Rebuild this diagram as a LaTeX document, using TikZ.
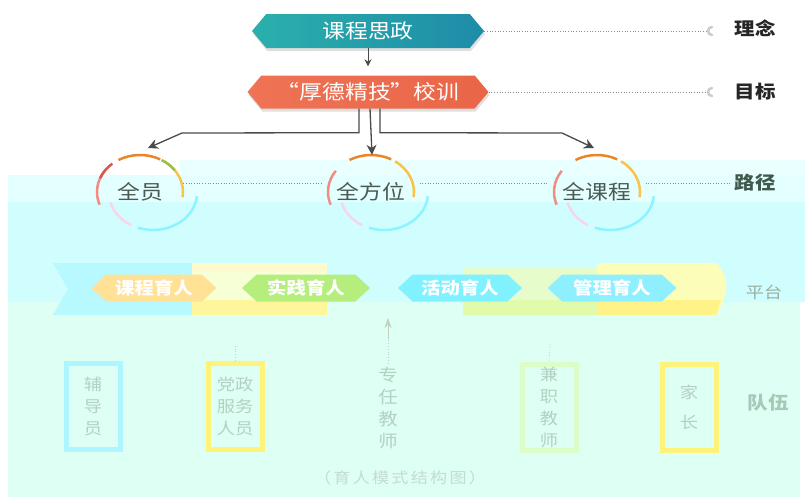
\documentclass[tikz,border=0pt]{standalone}
\usepackage{fontspec}
\setmainfont{Noto Sans CJK SC}[FakeStretch=1.14]
\usetikzlibrary{shapes.symbols,shapes.geometric,shadows,arrows.meta,calc}
\definecolor{tealA}{HTML}{2BB0AC}
\definecolor{tealB}{HTML}{1E8CA8}
\definecolor{orngA}{HTML}{EF7355}
\definecolor{orngB}{HTML}{EA6548}
\definecolor{conncol}{HTML}{4A4A4A}
\definecolor{bgA}{HTML}{EAFFFF}
\definecolor{bgB}{HTML}{E4FFFF}
\definecolor{bgC}{HTML}{D0FEFF}
\definecolor{bgD}{HTML}{DEFFF4}
\definecolor{fadetxt}{HTML}{B4D0C2}
\definecolor{ringtxt}{HTML}{4A5A52}
\definecolor{arcRed}{HTML}{D9574F}
\definecolor{arcSalmon}{HTML}{F08C80}
\definecolor{arcOrange}{HTML}{E8862A}
\definecolor{arcGreen}{HTML}{9DBF4C}
\definecolor{arcYellow}{HTML}{F7C34A}
\definecolor{arcPink}{HTML}{F9D4EA}
\definecolor{arcCyan}{HTML}{8CF4FF}
\definecolor{ribCyan}{HTML}{B8F8FF}
\definecolor{ribYelA}{HTML}{F6FFD6}
\definecolor{ribYelB}{HTML}{FFF59A}
\definecolor{ribGrnA}{HTML}{E6FCCB}
\definecolor{ribGrnB}{HTML}{E2FBAA}
\definecolor{ribYelC}{HTML}{FCFDB8}
\definecolor{ribYelD}{HTML}{FFF388}
\definecolor{tagOr}{HTML}{FFE296}
\definecolor{tagGr}{HTML}{B6EE7E}
\definecolor{tagCy}{HTML}{80F2FF}
\definecolor{tagCy2}{HTML}{8EF0FF}
\definecolor{boxCy}{HTML}{ADF5FF}
\definecolor{boxYe}{HTML}{FFF27A}
\definecolor{boxGr}{HTML}{DCFCC8}
\definecolor{pathtxt}{HTML}{3F5A4C}
\definecolor{plattxt}{HTML}{9AB0A2}
\definecolor{teamtxt}{HTML}{A8C8B8}
\definecolor{captxt}{HTML}{C4DCD2}
\begin{document}
\begin{tikzpicture}[x=1pt,y=-1pt,
  hexa/.style={shape=signal, signal to=west and east, signal pointer angle=100,
    inner sep=0pt, text=white, font=\fontsize{20}{20}\selectfont,
    drop shadow={opacity=0.25, shadow xshift=1pt, shadow yshift=-3pt}},
  tag/.style={shape=signal, signal to=west and east, signal pointer angle=85,
    inner sep=0pt, minimum height=27pt, text=white, font=\bfseries\fontsize{17}{17}\selectfont},
  side/.style={font=\bfseries\fontsize{18}{18}\selectfont, text=black!85},
  conn/.style={draw=conncol, line width=1.3pt, -{Stealth[length=10pt,width=10pt]}},
  dots/.style={draw=black!45, dotted, line width=0.7pt},
  ring/.style={ellipse, minimum width=86pt, minimum height=74pt, inner sep=0pt, text=ringtxt, font=\fontsize{20}{20}\selectfont},
  arcline/.style={line width=2.5pt},
  team/.style={draw, line width=5pt, minimum width=54pt, minimum height=86pt, inner sep=0pt,
    text=fadetxt, align=center, font=\fontsize{16}{22}\selectfont},
]
\useasboundingbox (0,0) rectangle (805,499);
% background panels
\fill[white] (0,0) rectangle (805,499);
\fill[bgA] (180,160) rectangle (805,175);
\fill[bgB] (8,175) rectangle (805,202);
\fill[bgC] (8,202) rectangle (805,302);
\fill[bgD] (8,302) rectangle (800,497);

% top nodes
\node[hexa, minimum width=232pt, minimum height=34pt, left color=tealA, right color=tealB] (n1) at (368,31) {课程思政};
\node[hexa, minimum width=241pt, minimum height=33pt, left color=orngA, right color=orngB] (n2) at (368,92) {“厚德精技”校训};

\draw[conn, -{Stealth[length=7pt,width=7pt]}, line width=1pt, shorten >=9pt] (n1.south) -- (n2.north);

% right side labels
\node[side] (l1) at (755,28) {理念};
\node[side] (l2) at (755,92) {目标};
\node[side, text=pathtxt] (l3) at (755,183) {路径};
\node[font=\fontsize{16}{16}\selectfont, text=plattxt] (l4) at (764,292) {平台};
\node[side, text=teamtxt] (l5) at (768,403) {队伍};

\coordinate (d1) at (706,31);
\coordinate (d2) at (706,92);
\draw[dots] (n1.east) -- (d1);
\draw[dots] (n2.east) -- (d2);
\foreach \c in {d1,d2}{
  \draw[black!20, line width=2.5pt, line cap=round] ([xshift=6pt,yshift=4pt]\c) arc[start angle=90, end angle=270, radius=4pt];
}

% circles
\node[ring] (c1) at (140,192) {全员};
\node[ring] (c2) at (371,192) {全方位};
\node[ring] (c3) at (597,192) {全课程};

\foreach \c in {c1,c2,c3}{
  \draw[arcSalmon, arcline] ([shift={(200:43pt and 37pt)}]\c.center) arc[start angle=200, end angle=145, x radius=43pt, y radius=37pt];
  \draw[arcOrange, arcline] ([shift={(120:43pt and 37pt)}]\c.center) arc[start angle=120, end angle=62, x radius=43pt, y radius=37pt];
  \draw[arcYellow, arcline] ([shift={(56:43pt and 37pt)}]\c.center) arc[start angle=56, end angle=-8, x radius=43pt, y radius=37pt];
  \draw[arcPink, arcline] ([shift={(195:44pt and 37pt)},shift={(13pt,-1pt)}]\c.center) arc[start angle=195, end angle=240, x radius=44pt, y radius=37pt];
  \draw[arcCyan, arcline] ([shift={(250:44pt and 37pt)},shift={(13pt,-1pt)}]\c.center) arc[start angle=250, end angle=355, x radius=44pt, y radius=37pt];
}
\draw[arcRed, arcline] ([shift={(158:43pt and 37pt)}]c1.center) arc[start angle=158, end angle=130, x radius=43pt, y radius=37pt];
\draw[arcGreen, arcline] ([shift={(60:43pt and 37pt)}]c1.center) arc[start angle=60, end angle=36, x radius=43pt, y radius=37pt];

\draw[dots] ([yshift=9pt]c1.east) -- ([yshift=9pt]c2.west);
\draw[dots] ([yshift=9pt]c2.east) -- ([yshift=9pt]c3.west);
\draw[dots] ([yshift=9pt]c3.east) -- (l3.west);

% connectors from the motto to the three paths
\coordinate (a1) at (148,148);
\coordinate (a3) at (594,148);
\draw[conn] ([xshift=-9pt]n2.south) -- ++(0,24) -- (182,133) -- (a1);
\draw[conn] ([xshift=2pt]n2.south) -- ([xshift=1pt]c2.north);
\draw[conn] ([xshift=12pt]n2.south) -- ++(0,24) -- (562,133) -- (a3);

% platform ribbon
\fill[ribCyan] (53,263) -- (192,263) -- (192,315) -- (53,315) -- (68,289) -- cycle;
\fill[ribYelA] (192,263) rectangle (327,315);
\fill[ribYelB] (192,300) rectangle (327,315);
\fill[ribYelB!50!white] (192,263) rectangle (327,271);
\fill[ribGrnA] (463,267) rectangle (597,315);
\fill[ribGrnB] (463,300) rectangle (597,315);
\fill[ribYelC] (597,263) -- (716,263) .. controls (724,270) and (727,282) .. (726,289) .. controls (725,298) and (721,308) .. (716,315) -- (597,315) -- cycle;
\fill[ribYelD] (597,300) -- (721,300) -- (716,315) -- (597,315) -- cycle;
\coordinate (rb) at (388,318);

\node[tag, minimum width=125pt, fill=tagOr] (t1) at (154,288) {课程育人};
\node[tag, minimum width=128pt, fill=tagGr] (t2) at (306,288) {实践育人};
\node[tag, minimum width=124pt, fill=tagCy] (t3) at (460,288) {活动育人};
\node[tag, minimum width=129pt, fill=tagCy2] (t4) at (612,288) {管理育人};

% team
\node[team, draw=boxCy] (b1) at (93,406) {辅\\导\\员};
\node[team, draw=boxYe] (b2) at (235,406) {党政\\服务\\人员};
\node[text=fadetxt, align=center, font=\fontsize{17}{22}\selectfont] (b3) at (388,408) {专\\任\\教\\师};
\node[team, draw=boxGr] (b4) at (549,407) {兼\\职\\教\\师};
\node[team, draw=boxYe, font=\fontsize{16}{30}\selectfont] (b5) at (689,407) {家\\长};

\coordinate (k2) at (235,344);
\coordinate (k4) at (550,344);
\draw[black!20, dotted, line width=0.8pt] (b2.north) -- (k2);
\draw[black!20, dotted, line width=0.8pt] (b4.north) -- (k4);
\draw[green!30!black!25!white, dotted, line width=0.8pt] (b3.north) -- (388,338);
\draw[draw=green!30!black!25!white, line width=0.8pt, -{Stealth[length=10pt,width=7pt]}] (388,338) -- (rb);

\node[text=captxt, font=\fontsize{15}{15}\selectfont\addfontfeatures{LetterSpace=15}] (cap) at (400,478) {（育人模式结构图）};
\end{tikzpicture}
\end{document}
